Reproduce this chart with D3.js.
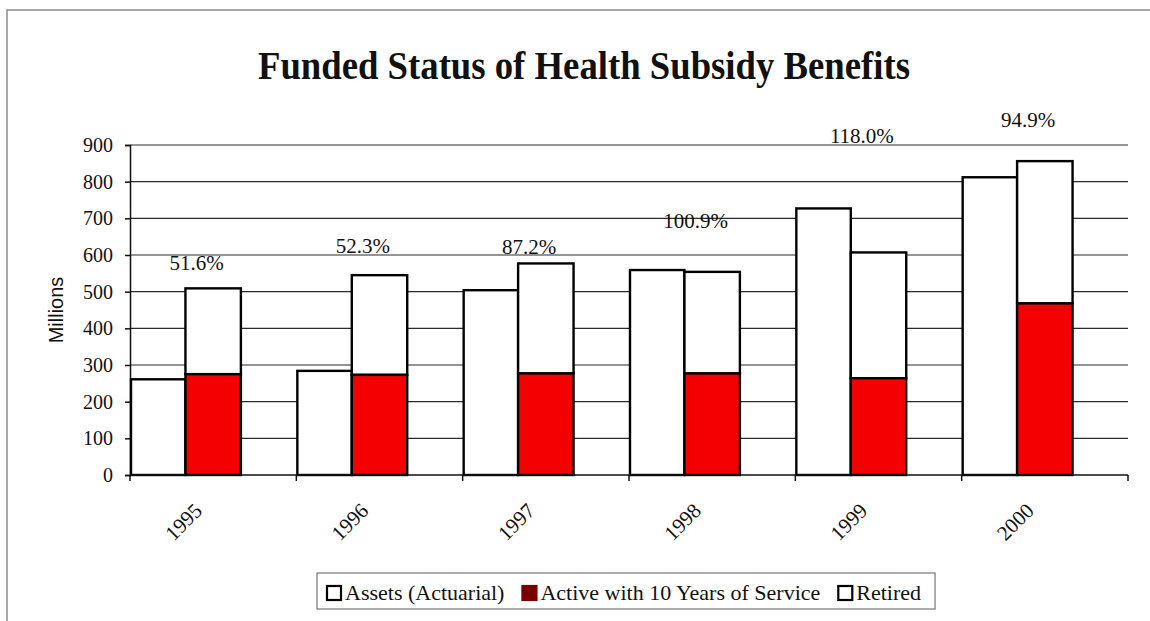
<!DOCTYPE html>
<html>
<head>
<meta charset="utf-8">
<script src="https://cdn.jsdelivr.net/npm/d3@7"></script>
<style>
  body { margin: 0; background: #fff; }
  svg text { font-family: "Liberation Serif", "Times New Roman", serif; fill: #111; }
</style>
</head>
<body>
<div id="chart"></div>
<script>
'use strict';

// values in millions
let years = ["1995", "1996", "1997", "1998", "1999", "2000"];
let assets = [261, 284, 504, 559, 727, 812];
let active = [275, 273, 277, 277, 264, 468];
let retired = [234, 272, 300, 277, 343, 388];
let pctLabels = ["51.6%", "52.3%", "87.2%", "100.9%", "118.0%", "94.9%"];
// level (in millions) where each percent label sits
let pctLevel = [559, 605, 603, 674, 905, 950];
let yTicks = [0, 100, 200, 300, 400, 500, 600, 700, 800, 900];
let legendItems = [
    {name: "Assets (Actuarial)", color: "#fff"},
    {name: "Active with 10 Years of Service", color: "#7a0000"},
    {name: "Retired", color: "#fff"}
];

let serif = "'Liberation Serif', 'Times New Roman', serif";
let width = 1150;
let height = 621;
let margin = {top: 145, right: 22, bottom: 146, left: 130};

let svg = d3.select("#chart").append("svg")
    .attr("width", width)
    .attr("height", height);

// page frame (only top and left edge show)
svg.append("path")
    .attr("d", "M7,621V10H1150")
    .attr("fill", "none")
    .attr("stroke", "#8a8a8a")
    .attr("stroke-width", 1.5);

let x = d3.scaleBand()
    .domain(years)
    .range([margin.left, width - margin.right])
    .padding(0);

let y = d3.scaleLinear()
    .domain([0, 900])
    .range([height - margin.bottom, margin.top]);

let bw = x.bandwidth() / 3;

// title
svg.append("text")
    .attr("x", 584)
    .attr("y", 79)
    .attr("text-anchor", "middle")
    .style("font-family", serif)
    .style("font-size", "40px")
    .style("font-weight", "bold")
    .attr("textLength", 652)
    .attr("lengthAdjust", "spacingAndGlyphs")
    .text("Funded Status of Health Subsidy Benefits");

// gridlines
svg.append("g")
    .selectAll("line")
    .data(yTicks.filter(function(d) { return d > 0; }))
    .enter().append("line")
        .attr("x1", margin.left)
        .attr("x2", width - margin.right)
        .attr("y1", function(d) { return y(d); })
        .attr("y2", function(d) { return y(d); })
        .attr("stroke", "#2a2a2a")
        .attr("stroke-width", 1.2);

// y axis
let yAxis = svg.append("g")
    .attr("transform", "translate(" + margin.left + ",0)")
    .call(d3.axisLeft(y).tickValues(yTicks).tickSize(5).tickPadding(12).tickFormat(d3.format("d")));
yAxis.attr("font-family", null).attr("font-size", null);
yAxis.select(".domain").attr("stroke", "#111").attr("stroke-width", 1.5);
yAxis.selectAll(".tick line").attr("stroke", "#111").attr("stroke-width", 1.5);
yAxis.selectAll("text")
    .style("font-family", serif)
    .style("font-size", "20px")
    .attr("fill", "#111");

svg.append("text")
    .attr("transform", "translate(56," + y(450) + ")rotate(-90)")
    .attr("text-anchor", "middle")
    .attr("dy", "0.35em")
    .style("font-family", "'Liberation Sans', Arial, sans-serif")
    .style("font-size", "20px")
    .text("Millions");

// bars
let groups = svg.append("g")
    .selectAll("g")
    .data(years)
    .enter().append("g");

groups.append("rect")
    .attr("x", function(d) { return x(d) + 1; })
    .attr("y", function(d, i) { return y(assets[i]); })
    .attr("width", bw - 1)
    .attr("height", function(d, i) { return y(0) - y(assets[i]); })
    .attr("fill", "#fff")
    .attr("stroke", "#000")
    .attr("stroke-width", 2.4);

groups.append("rect")
    .attr("x", function(d) { return x(d) + bw; })
    .attr("y", function(d, i) { return y(active[i] + retired[i]); })
    .attr("width", bw)
    .attr("height", function(d, i) { return y(active[i]) - y(active[i] + retired[i]); })
    .attr("fill", "#fff")
    .attr("stroke", "#000")
    .attr("stroke-width", 2.4);

groups.append("rect")
    .attr("x", function(d) { return x(d) + bw; })
    .attr("y", function(d, i) { return y(active[i]); })
    .attr("width", bw)
    .attr("height", function(d, i) { return y(0) - y(active[i]); })
    .attr("fill", "#f40000")
    .attr("stroke", "#000")
    .attr("stroke-width", 2.4);

// x axis
let xAxis = svg.append("g")
    .attr("transform", "translate(0," + y(0) + ")");
xAxis.append("line")
    .attr("x1", margin.left)
    .attr("x2", width - margin.right)
    .attr("stroke", "#111")
    .attr("stroke-width", 1.5);
xAxis.selectAll(".edge")
    .data(years.concat(["end"]))
    .enter().append("line")
        .attr("class", "edge")
        .attr("x1", function(d) { return d === "end" ? width - margin.right : x(d); })
        .attr("x2", function(d) { return d === "end" ? width - margin.right : x(d); })
        .attr("y1", 0)
        .attr("y2", 6)
        .attr("stroke", "#111")
        .attr("stroke-width", 1.5);

xAxis.selectAll(".yr")
    .data(years)
    .enter().append("text")
        .attr("class", "yr")
        .attr("transform", function(d) {
            return "translate(" + (x(d) + bw + 18) + ",37)rotate(-45)";
        })
        .attr("text-anchor", "end")
        .style("font-family", serif)
        .style("font-size", "21px")
        .text(function(d) { return d; });

// percent labels
svg.append("g")
    .selectAll("text")
    .data(pctLabels)
    .enter().append("text")
        .attr("x", function(d, i) { return x(years[i]) + x.bandwidth() * 0.4; })
        .attr("y", function(d, i) { return y(pctLevel[i]); })
        .attr("text-anchor", "middle")
        .style("font-family", serif)
        .style("font-size", "21px")
        .text(function(d) { return d; });

// legend
let legend = svg.append("g").attr("transform", "translate(317,573)");
let legendBox = legend.append("rect")
    .attr("width", 625)
    .attr("height", 36)
    .attr("fill", "#fff")
    .attr("stroke", "#777")
    .attr("stroke-width", 1.2);

let lx = 10;
legendItems.forEach(function(item) {
    legend.append("rect")
        .attr("x", lx)
        .attr("y", 13)
        .attr("width", 14)
        .attr("height", 14)
        .attr("fill", item.color)
        .attr("stroke", item.color === "#fff" ? "#000" : item.color)
        .attr("stroke-width", 2.2);
    let t = legend.append("text")
        .attr("x", lx + 18)
        .attr("y", 27)
        .style("font-family", serif)
        .style("font-size", "22px")
        .text(item.name);
    lx += 18 + t.node().getComputedTextLength() + 18;
});
legendBox.attr("width", lx - 4);
</script>
</body>
</html>
